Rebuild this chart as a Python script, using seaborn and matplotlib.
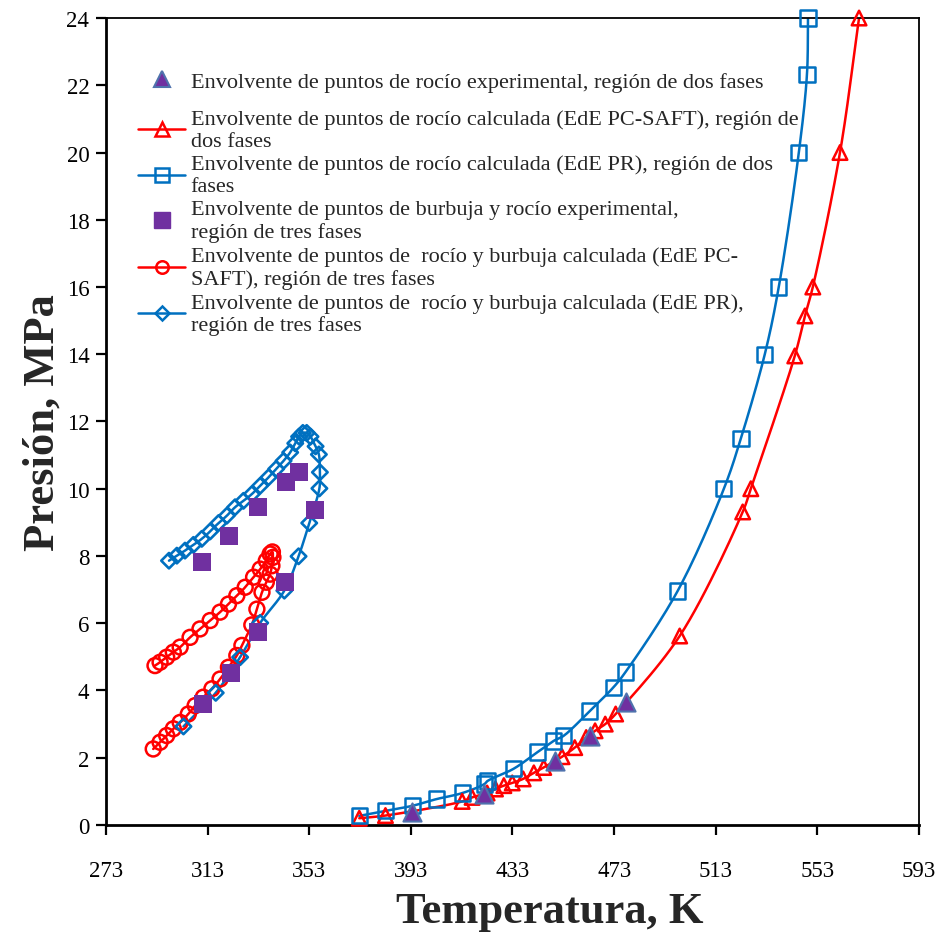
import numpy as np
import matplotlib
matplotlib.use("Agg")
import matplotlib.pyplot as plt
import seaborn as sns
from matplotlib.lines import Line2D

# ---- data: temperature (K) and pressure (MPa) ----
# experimental dew points, two-phase region
exp2_T = [393.6, 421.6, 449.6, 463.7, 477.5]
exp2_P = [0.39, 0.92, 1.90, 2.65, 3.66]

# calculated dew points, PC-SAFT EoS, two-phase region
saft2_T = [372.7, 383.0, 413.2, 417.1, 423.0, 426.3, 429.6, 432.9, 437.2, 441.4,
           445.3, 452.5, 457.5, 462.0, 465.5, 469.5, 473.6, 498.8, 523.6, 526.8,
           544.1, 548.1, 551.2, 561.9, 569.4]
saft2_P = [0.20, 0.28, 0.70, 0.82, 0.95, 1.07, 1.17, 1.25, 1.37, 1.55,
           1.71, 2.03, 2.30, 2.60, 2.80, 3.00, 3.30, 5.62, 9.31, 10.0,
           13.95, 15.14, 16.0, 20.0, 24.0]

# calculated dew points, PR EoS, two-phase region
pr2_T = [372.7, 383.0, 393.6, 403.1, 413.3, 422.0, 423.2, 433.4, 442.9, 449.2,
         453.1, 463.4, 472.8, 477.5, 498.0, 516.2, 522.9, 532.3, 537.8, 545.7,
         548.9, 549.3]
pr2_P = [0.27, 0.42, 0.57, 0.77, 0.95, 1.22, 1.31, 1.67, 2.17, 2.50,
         2.65, 3.39, 4.10, 4.55, 6.96, 10.0, 11.5, 14.0, 16.0, 20.0,
         22.33, 24.0]

# experimental bubble/dew points, three-phase region
exp3_T = [310.7, 311.3, 321.5, 322.1, 333.0, 333.0, 343.5, 343.8, 349.1, 355.2]
exp3_P = [7.81, 3.60, 8.60, 4.52, 9.47, 5.73, 7.22, 10.19, 10.49, 9.38]

# calculated dew/bubble points, PC-SAFT EoS, three-phase region
saft3_T = [291.6, 294.3, 296.9, 299.5, 302.2, 305.4, 308.1, 311.3, 314.7, 317.9,
           321.2, 324.5, 326.5, 330.4, 332.4, 334.4, 336.1, 337.6, 338.3, 338.7,
           338.5, 337.6, 336.1, 333.7, 331.1, 327.8, 324.5, 321.2, 317.9, 314.0,
           310.0, 306.1, 302.2, 299.5, 296.9, 294.3, 292.3]
saft3_P = [2.26, 2.46, 2.66, 2.86, 3.05, 3.30, 3.55, 3.80, 4.05, 4.34,
           4.69, 5.04, 5.34, 5.95, 6.42, 6.92, 7.22, 7.46, 7.71, 7.96,
           8.12, 8.06, 7.86, 7.61, 7.37, 7.07, 6.82, 6.57, 6.33, 6.08,
           5.83, 5.58, 5.29, 5.14, 4.99, 4.84, 4.74]

# calculated dew/bubble points, PR EoS, three-phase region
pr3_T = [303.5, 316.2, 325.8, 333.7, 343.2, 348.8, 353.0, 357.0, 357.2, 356.8,
         355.5, 353.5, 352.0, 350.5, 349.0, 347.5, 345.5, 342.9, 340.0, 337.0,
         333.7, 330.4, 327.1, 323.8, 320.6, 317.3, 314.0, 310.7, 307.4, 304.1,
         300.9, 297.8]
pr3_P = [2.93, 3.93, 4.99, 6.01, 6.97, 7.99, 8.98, 10.01, 10.49, 11.02,
         11.26, 11.55, 11.66, 11.66, 11.55, 11.35, 11.08, 10.83, 10.59, 10.34,
         10.09, 9.84, 9.64, 9.45, 9.20, 8.98, 8.73, 8.51, 8.33, 8.16,
         8.01, 7.86]

x_ticks = list(range(273, 594, 40))
y_ticks = list(range(0, 25, 2))

labels = [
    "Envolvente de puntos de rocío experimental, región de dos fases",
    "Envolvente de puntos de rocío calculada (EdE PC-SAFT), región de\ndos fases",
    "Envolvente de puntos de rocío calculada (EdE PR), región de dos\nfases",
    "Envolvente de puntos de burbuja y rocío experimental,\nregión de tres fases",
    "Envolvente de puntos de  rocío y burbuja calculada (EdE PC-\nSAFT), región de tres fases",
    "Envolvente de puntos de  rocío y burbuja calculada (EdE PR),\nregión de tres fases",
]

RED = "#ff0000"
BLUE = "#0070c0"
PURPLE = "#7030a0"
PURPLE_EDGE = "#4f72ad"

sns.set_style("ticks")
plt.rcParams["font.family"] = ["Liberation Serif", "DejaVu Serif"]


def smooth_path(t, p, steps=14):
    """Centripetal Catmull-Rom curve through the points (smoothed line)."""
    t = np.asarray(t, float)
    p = np.asarray(p, float)
    pts = np.column_stack([(t - 273.0) / 320.0, p / 24.0])
    ext = np.vstack([2 * pts[0] - pts[1], pts, 2 * pts[-1] - pts[-2]])
    out = []
    for i in range(len(pts) - 1):
        p0, p1, p2, p3 = ext[i], ext[i + 1], ext[i + 2], ext[i + 3]
        d01 = max(np.hypot(*(p1 - p0)) ** 0.5, 1e-6)
        d12 = max(np.hypot(*(p2 - p1)) ** 0.5, 1e-6)
        d23 = max(np.hypot(*(p3 - p2)) ** 0.5, 1e-6)
        t0, t1 = 0.0, d01
        t2 = t1 + d12
        t3 = t2 + d23
        u = np.linspace(t1, t2, steps, endpoint=False)[:, None]
        a1 = (t1 - u) / (t1 - t0) * p0 + (u - t0) / (t1 - t0) * p1
        a2 = (t2 - u) / (t2 - t1) * p1 + (u - t1) / (t2 - t1) * p2
        a3 = (t3 - u) / (t3 - t2) * p2 + (u - t2) / (t3 - t2) * p3
        b1 = (t2 - u) / (t2 - t0) * a1 + (u - t0) / (t2 - t0) * a2
        b2 = (t3 - u) / (t3 - t1) * a2 + (u - t1) / (t3 - t1) * a3
        out.append((t2 - u) / (t2 - t1) * b1 + (u - t1) / (t2 - t1) * b2)
    out.append(pts[-1:])
    c = np.vstack(out)
    return c[:, 0] * 320.0 + 273.0, c[:, 1] * 24.0


fig = plt.figure(figsize=(9.42, 9.37), dpi=100)
ax = fig.add_axes([0.1125, 0.1185, 0.8631, 0.8612])


def draw_line(t, p, color):
    st, sp = smooth_path(t, p)
    sns.lineplot(x=st, y=sp, sort=False, estimator=None, color=color,
                 linewidth=1.8, ax=ax, legend=False, zorder=2)


def draw_open(t, p, marker, size, color, lw=1.8):
    sns.scatterplot(x=t, y=p, marker=marker, s=size, facecolor="none",
                    edgecolor=color, linewidth=lw, ax=ax, legend=False,
                    zorder=3, clip_on=False)


# three-phase envelopes
draw_line(saft3_T, saft3_P, RED)
draw_open(saft3_T, saft3_P, "o", 115, RED)
draw_line(pr3_T, pr3_P, BLUE)
draw_open(pr3_T, pr3_P, "D", 62, BLUE, lw=1.9)
sns.scatterplot(x=exp3_T, y=exp3_P, marker="s", s=160, color=PURPLE,
                edgecolor=PURPLE, linewidth=0, ax=ax, legend=False, zorder=4)

# two-phase envelopes
draw_line(saft2_T, saft2_P, RED)
draw_open(saft2_T, saft2_P, "^", 110, RED)
draw_line(pr2_T, pr2_P, BLUE)
draw_open(pr2_T, pr2_P, "s", 120, BLUE)
sns.scatterplot(x=exp2_T, y=exp2_P, marker="^", s=170, color=PURPLE,
                edgecolor=PURPLE_EDGE, linewidth=1.5, ax=ax, legend=False,
                zorder=4)

ax.set_xlim(273, 593)
ax.set_ylim(0, 24)
ax.set_xticks(x_ticks)
ax.set_yticks(y_ticks)
ax.tick_params(axis="both", direction="out", length=7, width=1.6,
               labelsize=16.5, colors="black", top=False, right=False)
ax.tick_params(axis="x", pad=18)
ax.tick_params(axis="y", pad=5)

for side in ("left", "bottom"):
    ax.spines[side].set_linewidth(2.0)
for side in ("top", "right"):
    ax.spines[side].set_linewidth(1.3)
for sp in ax.spines.values():
    sp.set_color("black")

ax.set_xlabel("Temperatura, K", fontsize=32, fontweight="bold")
ax.set_ylabel("Presión, MPa", fontsize=32, fontweight="bold")
ax.xaxis.set_label_coords(0.546, -0.107)
ax.xaxis.label.set_va("center")
ax.yaxis.set_label_coords(-0.078, 0.5)
ax.yaxis.label.set_va("center")

handles = [
    Line2D([], [], linestyle="none", marker="^", markersize=12,
           markerfacecolor=PURPLE, markeredgecolor=PURPLE_EDGE, markeredgewidth=1.5),
    Line2D([], [], color=RED, lw=1.8, marker="^", markersize=10,
           markerfacecolor="none", markeredgecolor=RED, markeredgewidth=1.8),
    Line2D([], [], color=BLUE, lw=1.8, marker="s", markersize=10,
           markerfacecolor="none", markeredgecolor=BLUE, markeredgewidth=1.8),
    Line2D([], [], linestyle="none", marker="s", markersize=11.5,
           markerfacecolor=PURPLE, markeredgecolor=PURPLE),
    Line2D([], [], color=RED, lw=1.8, marker="o", markersize=9,
           markerfacecolor="none", markeredgecolor=RED, markeredgewidth=1.8),
    Line2D([], [], color=BLUE, lw=1.8, marker="D", markersize=7,
           markerfacecolor="none", markeredgecolor=BLUE, markeredgewidth=1.8),
]
legend_kw = dict(loc="upper left", frameon=False, fontsize=16,
                 handlelength=2.1, handletextpad=0.25, labelspacing=0.18,
                 borderaxespad=0, borderpad=0)
# the single-line first entry sits a little apart from the rest
leg_top = ax.legend(handles=handles[:1], labels=labels[:1],
                    bbox_to_anchor=(0.040, 0.934), **legend_kw)
ax.add_artist(leg_top)
ax.legend(handles=handles[1:], labels=labels[1:],
          bbox_to_anchor=(0.040, 0.887), **legend_kw)

fig.savefig("out.png", dpi=100)
